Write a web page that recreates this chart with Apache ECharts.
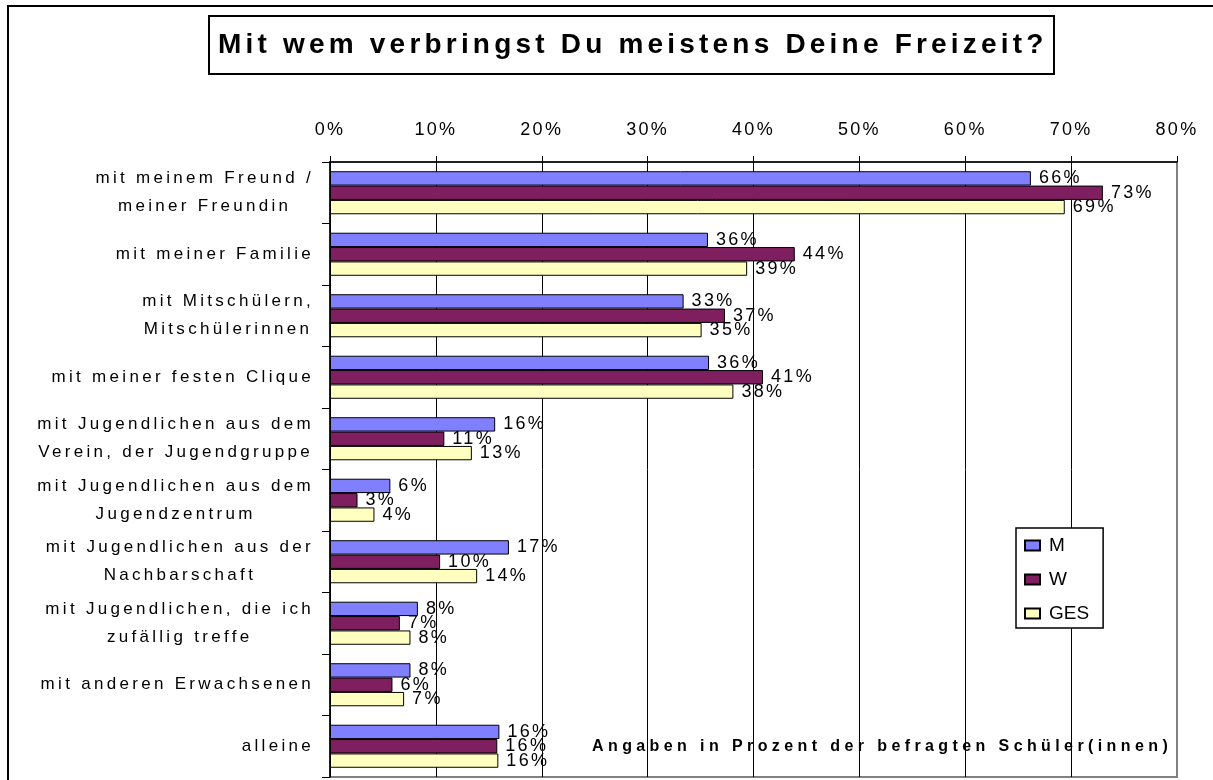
<!DOCTYPE html>
<html>
<head>
<meta charset="utf-8">
<title>Mit wem verbringst Du meistens Deine Freizeit?</title>
<script src="https://cdn.jsdelivr.net/npm/echarts@6/dist/echarts.min.js"></script>
<style>
  html, body { margin: 0; padding: 0; background: #fff; }
  #chart { width: 1213px; height: 780px; }
</style>
</head>
<body>
<div id="chart"></div>
<script>
const categories = [
  'mit meinem Freund /\nmeiner Freundin',
  'mit meiner Familie',
  'mit Mitschülern,\nMitschülerinnen',
  'mit meiner festen Clique',
  'mit Jugendlichen aus dem\nVerein, der Jugendgruppe',
  'mit Jugendlichen aus dem\nJugendzentrum',
  'mit Jugendlichen aus der\nNachbarschaft',
  'mit Jugendlichen, die ich\nzufällig treffe',
  'mit anderen Erwachsenen',
  'alleine'
]
const seriesNames = ['M', 'W', 'GES']
const valuesM = [66.2, 35.7, 33.4, 35.8, 15.6, 5.7, 16.9, 8.3, 7.6, 16.0]
const valuesW = [73.0, 43.9, 37.3, 40.9, 10.8, 2.6, 10.4, 6.6, 5.9, 15.8]
const valuesGES = [69.4, 39.4, 35.1, 38.1, 13.4, 4.2, 13.9, 7.6, 7.0, 15.9]
const axisMin = 0
const axisMax = 80
const axisStep = 10

const FONT = 'Liberation Sans'
const colors = ['#8080FF', '#7F1F5F', '#FFFFC0']

// the old spreadsheet spaces its letters out; canvas letterSpacing per font
const trackingFor = font => {
  const size = parseFloat((font.match(/([\d.]+)px/) || [])[1])
  const bold = /bold|[6-9]00/.test(font)
  if (bold) return size >= 24 ? 4.2 : 4.4
  if (size === 17) return 3.3
  if (size === 18) return 2.3
  return 0
}

const hasSpacing = 'letterSpacing' in CanvasRenderingContext2D.prototype
if (hasSpacing) {
  const nativeFill = CanvasRenderingContext2D.prototype.fillText
  CanvasRenderingContext2D.prototype.fillText = function (text, x, y, maxWidth) {
    this.letterSpacing = trackingFor(this.font) + 'px'
    return maxWidth === undefined
      ? nativeFill.call(this, text, x, y)
      : nativeFill.call(this, text, x, y, maxWidth)
  }
  const measureCtx = document.createElement('canvas').getContext('2d')
  echarts.setPlatformAPI({
    measureText(text, font) {
      measureCtx.font = font || '12px sans-serif'
      measureCtx.letterSpacing = trackingFor(measureCtx.font) + 'px'
      return { width: measureCtx.measureText(text || '').width }
    }
  })
}

const splitColors = []
for (let v = axisMin; v < axisMax; v += axisStep) splitColors.push('#000')
splitColors.push('#808080')

const makeSeries = (name, data, color) => ({
  name,
  type: 'bar',
  data,
  barGap: '0%',
  barCategoryGap: '30%',
  itemStyle: { color, borderColor: '#000', borderWidth: 1 },
  label: {
    show: true,
    position: 'right',
    distance: 8,
    fontFamily: FONT,
    fontSize: 18,
    color: '#000',
    formatter: p => Math.round(p.value) + '%'
  }
})

const chart = echarts.init(document.getElementById('chart'), null, { renderer: 'canvas' })

chart.setOption({
  animation: false,
  backgroundColor: '#fff',
  textStyle: { fontFamily: FONT },
  title: {
    text: 'Mit wem verbringst Du meistens Deine Freizeit?',
    left: 209,
    top: 16,
    padding: [13, 7, 13, 9],
    borderColor: '#000',
    borderWidth: 2,
    backgroundColor: '#fff',
    textStyle: { fontFamily: FONT, fontSize: 28, fontWeight: 'bold', color: '#000' }
  },
  legend: {
    orient: 'vertical',
    left: 1016,
    top: 528,
    padding: [8, 14, 5, 8],
    itemWidth: 15,
    itemHeight: 10,
    itemGap: 15,
    icon: 'rect',
    borderColor: '#000',
    borderWidth: 1.5,
    backgroundColor: '#fff',
    data: seriesNames,
    textStyle: { fontFamily: FONT, fontSize: 19, color: '#000', padding: [0, 0, 0, 4] }
  },
  grid: {
    left: 330,
    top: 162,
    width: 847,
    height: 615,
    show: true,
    borderColor: '#808080',
    borderWidth: 2,
    backgroundColor: 'transparent'
  },
  xAxis: {
    type: 'value',
    position: 'top',
    min: axisMin,
    max: axisMax,
    interval: axisStep,
    axisLine: { show: true, lineStyle: { color: '#000', width: 1.5 } },
    axisTick: { show: true, length: 6, lineStyle: { color: '#000' } },
    axisLabel: {
      margin: 22,
      fontFamily: FONT,
      fontSize: 18,
      color: '#000',
      formatter: '{value}%'
    },
    splitLine: { show: true, lineStyle: { color: splitColors, width: 1 } }
  },
  yAxis: {
    type: 'category',
    inverse: true,
    data: categories,
    axisLine: { show: true, lineStyle: { color: '#000', width: 1.5 } },
    axisTick: { show: true, length: 8, lineStyle: { color: '#000' } },
    axisLabel: {
      margin: 16,
      align: 'right',
      formatter: v => v.split('\n').map(line => '{c|' + line + '}').join('\n'),
      rich: {
        c: { align: 'center', fontFamily: FONT, fontSize: 17, lineHeight: 28, color: '#000' }
      }
    }
  },
  graphic: [
    {
      type: 'rect',
      silent: true,
      z: 100,
      shape: { x: 8, y: 6, width: 1400, height: 1000 },
      style: { fill: 'none', stroke: '#000', lineWidth: 2 }
    },
    {
      type: 'text',
      silent: true,
      z: 100,
      style: {
        x: 592,
        y: 747,
        text: 'Angaben in Prozent der befragten Schüler(innen)',
        font: 'bold 16px "Liberation Sans"',
        fill: '#000',
        verticalAlign: 'middle',
        align: 'left'
      }
    }
  ],
  series: [
    makeSeries(seriesNames[0], valuesM, colors[0]),
    makeSeries(seriesNames[1], valuesW, colors[1]),
    makeSeries(seriesNames[2], valuesGES, colors[2])
  ]
})
</script>
</body>
</html>
